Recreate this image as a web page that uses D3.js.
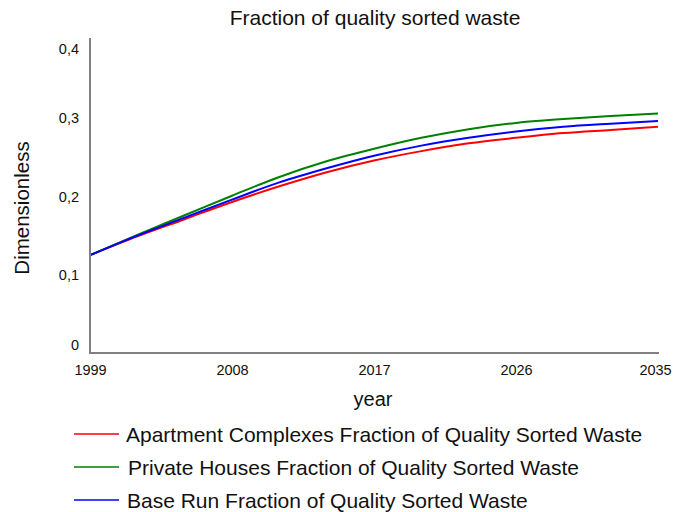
<!DOCTYPE html>
<html><head><meta charset="utf-8">
<script src="https://cdn.jsdelivr.net/npm/d3@7"></script>
<style>
html,body{margin:0;padding:0;background:#fff;}
text{font-family:"Liberation Sans",Arial,sans-serif;fill:#111;}
</style></head>
<body><svg id="chart" width="673" height="512"></svg>
<script>
const years = [1999, 2002, 2005, 2008, 2011, 2014, 2017, 2020, 2023, 2026, 2029, 2032, 2035];
const apartment = [0.125, 0.149, 0.171, 0.193, 0.213, 0.231, 0.246, 0.258, 0.268, 0.275, 0.281, 0.285, 0.289];
const privateHouses = [0.125, 0.151, 0.176, 0.201, 0.225, 0.245, 0.261, 0.275, 0.286, 0.294, 0.299, 0.303, 0.306];
const baseRun = [0.125, 0.150, 0.173, 0.196, 0.218, 0.236, 0.252, 0.265, 0.275, 0.283, 0.289, 0.293, 0.2965];
const xTicks = [1999, 2008, 2017, 2026, 2035];
const yTicks = [0, 0.1, 0.2, 0.3, 0.4];
const seriesNames = ["Apartment Complexes Fraction of Quality Sorted Waste", "Private Houses Fraction of Quality Sorted Waste", "Base Run Fraction of Quality Sorted Waste"];
const seriesColors = ["#ff0000", "#008000", "#0000ff"];
const seriesValues = [apartment, privateHouses, baseRun];

const svg = d3.select("#chart");
const x = d3.scaleLinear().domain([1999, 2035]).range([90, 658]);
const y = d3.scaleLinear().domain([0, 0.4]).range([353, 40]);
const fmt = d => d3.format(".1f")(d).replace(".", ",");

// series lines
const line = d3.line().x((d, i) => x(years[i])).y(d => y(d)).curve(d3.curveMonotoneX);
seriesValues.forEach((vals, k) => {
  svg.append("path").datum(vals).attr("d", line)
    .attr("fill", "none").attr("stroke", seriesColors[k]).attr("stroke-width", 2);
});

// axes
const yAxis = svg.append("g").attr("transform", "translate(90,0)")
  .call(d3.axisLeft(y).tickValues(yTicks).tickSize(0).tickPadding(11).tickFormat(d => d === 0 ? "0" : fmt(d)));
yAxis.selectAll("text").style("font-size", "14.5px").attr("fill", "#111")
  .attr("dy", d => d === 0.4 ? "0.95em" : (d === 0 ? "-0.22em" : "0.32em"));
yAxis.select(".domain").attr("stroke", "#808080").attr("stroke-width", 2).attr("d", "M0,38V353");

const xAxis = svg.append("g").attr("transform", "translate(0,353)")
  .call(d3.axisBottom(x).tickValues(xTicks).tickSize(0).tickPadding(12).tickFormat(d3.format("d")));
xAxis.selectAll("text").style("font-size", "14.5px").attr("fill", "#111")
  .attr("dx", d => d === 2035 ? "-3px" : "0");
xAxis.select(".domain").attr("stroke", "#808080").attr("stroke-width", 2).attr("d", "M89,0H659");

// titles
svg.append("text").attr("x", 375).attr("y", 25).attr("text-anchor", "middle")
  .style("font-size", "21px").text("Fraction of quality sorted waste");
svg.append("text").attr("x", 373).attr("y", 406).attr("text-anchor", "middle")
  .style("font-size", "20px").text("year");
svg.append("text").attr("transform", "translate(29,208) rotate(-90)").attr("text-anchor", "middle")
  .style("font-size", "20.5px").text("Dimensionless");

// legend
const legY = [434, 467, 500];
const legTX = [126, 128, 127];
seriesNames.forEach((name, k) => {
  svg.append("line").attr("x1", 74).attr("x2", 119).attr("y1", legY[k]).attr("y2", legY[k])
    .attr("stroke", seriesColors[k]).attr("stroke-width", 1.5);
  svg.append("text").attr("x", legTX[k]).attr("y", legY[k] + 8)
    .style("font-size", "21px").text(name);
});
</script></body></html>
